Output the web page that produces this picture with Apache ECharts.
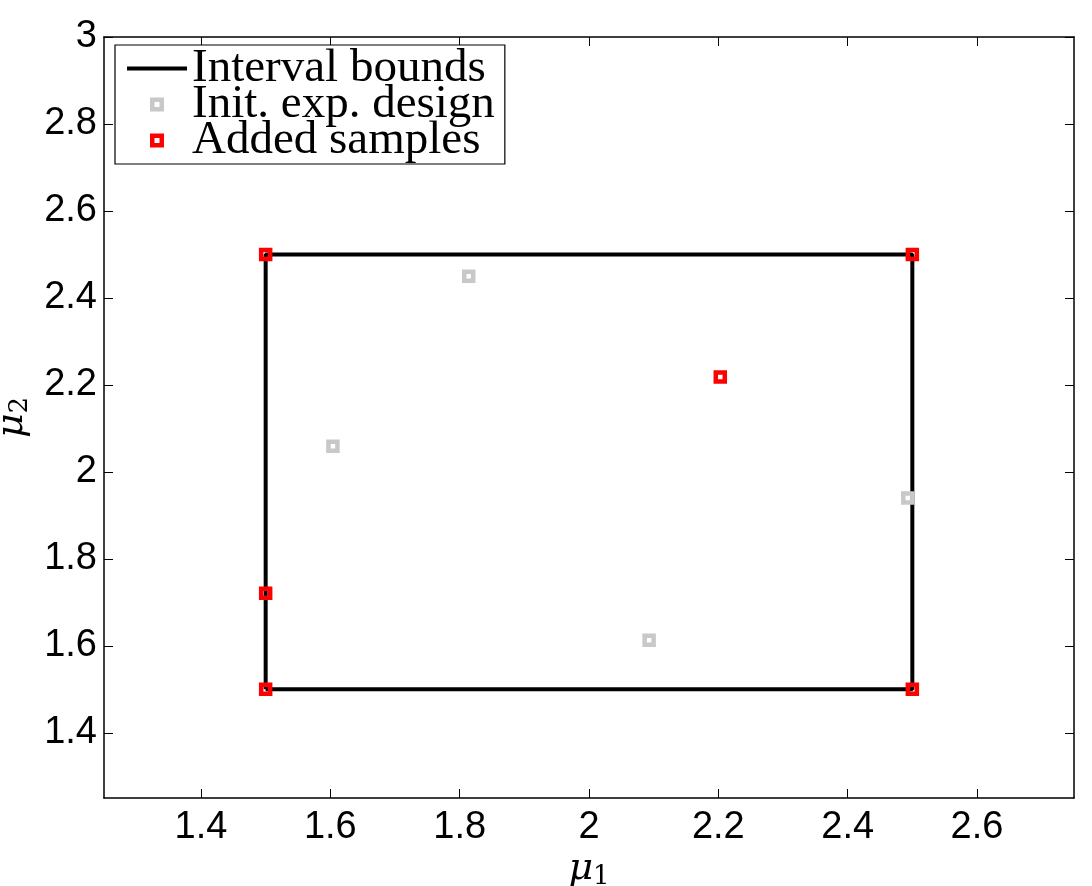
<!DOCTYPE html>
<html>
<head>
<meta charset="utf-8">
<script src="https://cdn.jsdelivr.net/npm/echarts@6/dist/echarts.min.js"></script>
<style>
  html, body { margin: 0; padding: 0; background: #fff; }
  #chart { width: 1092px; height: 886px; }
</style>
</head>
<body>
<div id="chart"></div>
<script>
// interval bounds rectangle (mu1, mu2) corners, closed
const boundsX = [1.5, 1.5, 2.5, 2.5, 1.5];
const boundsY = [1.5, 2.5, 2.5, 1.5, 1.5];
// initial experimental design
const initX = [1.814, 1.604, 2.093, 2.493];
const initY = [2.45, 2.059, 1.613, 1.94];
// added samples
const addedX = [1.5, 2.5, 1.5, 2.5, 1.5, 2.203];
const addedY = [2.5, 2.5, 1.5, 1.5, 1.721, 2.218];
// tick labels
const xTicks = [1.4, 1.6, 1.8, 2, 2.2, 2.4, 2.6];
const yTicks = [1.4, 1.6, 1.8, 2, 2.2, 2.4, 2.6, 2.8, 3];

const zip = (a, b) => a.map((v, i) => [v, b[i]]);

const tickFont = { fontFamily: 'Liberation Sans', fontSize: 38, color: '#000' };
const serif = 'DejaVu Serif';
const hollowSquare = 'path://M0,0H14V14H0ZM4.5,4.5V9.5H9.5V4.5Z';
const lineIcon = 'path://M0,0H60V4H0Z';

const frameAxis = {
  type: 'value',
  axisLine: { show: true, onZero: false, lineStyle: { color: '#000', width: 1.5 } },
  axisTick: { show: true, inside: true, length: 9, lineStyle: { color: '#000', width: 1 } },
  splitLine: { show: false }
};

const nameRich = {
  m: { fontFamily: serif, fontStyle: 'italic', fontSize: 38, color: '#000' },
  s: { fontFamily: serif, fontSize: 26, color: '#000', verticalAlign: 'bottom', padding: [16, 0, 0, 0] }
};

const option = {
  animation: false,
  backgroundColor: '#fff',
  grid: { left: 104, right: 18, top: 37, bottom: 88, containLabel: false, outerBoundsMode: 'none' },
  xAxis: [
    Object.assign({}, frameAxis, {
      min: 1.25, max: 2.75, position: 'bottom',
      axisTick: Object.assign({}, frameAxis.axisTick, { customValues: xTicks }),
      axisLabel: Object.assign({}, tickFont, { customValues: xTicks, margin: 11 }),
      name: '{m|μ}{s|1}',
      nameLocation: 'middle',
      nameGap: 50,
      nameMoveOverlap: false,
      nameTextStyle: { rich: nameRich }
    }),
    Object.assign({}, frameAxis, {
      min: 1.25, max: 2.75, position: 'top',
      axisTick: Object.assign({}, frameAxis.axisTick, { customValues: xTicks }),
      axisLabel: { show: false }
    })
  ],
  yAxis: [
    Object.assign({}, frameAxis, {
      min: 1.25, max: 3, position: 'left',
      axisTick: Object.assign({}, frameAxis.axisTick, { customValues: yTicks }),
      axisLabel: Object.assign({}, tickFont, { customValues: yTicks, margin: 7 }),
      name: '{m|μ}{s|2}',
      nameLocation: 'middle',
      nameGap: 66,
      nameRotate: 90,
      nameTextStyle: { rich: nameRich }
    }),
    Object.assign({}, frameAxis, {
      min: 1.25, max: 3, position: 'right',
      axisTick: Object.assign({}, frameAxis.axisTick, { customValues: yTicks }),
      axisLabel: { show: false }
    })
  ],
  legend: {
    orient: 'vertical',
    left: 115,
    top: 45,
    padding: [0, 10, 0, 12],
    itemWidth: 60,
    itemHeight: 14,
    itemGap: -11,
    backgroundColor: '#fff',
    borderColor: '#000',
    borderWidth: 1.2,
    borderRadius: 0,
    textStyle: { fontFamily: 'Liberation Serif', fontSize: 47, color: '#000' },
    data: [
      { name: 'Interval bounds', icon: lineIcon, itemStyle: { color: '#000', borderWidth: 0 } },
      { name: 'Init. exp. design', icon: hollowSquare, itemStyle: { color: '#c8c8c8', borderWidth: 0 } },
      { name: 'Added samples', icon: hollowSquare, itemStyle: { color: '#ff0000', borderWidth: 0 } }
    ]
  },
  series: [
    {
      name: 'Interval bounds',
      type: 'line',
      data: zip(boundsX, boundsY),
      symbol: 'none',
      lineStyle: { color: '#000', width: 4 },
      itemStyle: { color: '#000' },
      z: 2
    },
    {
      name: 'Init. exp. design',
      type: 'scatter',
      data: zip(initX, initY),
      symbol: 'rect',
      symbolSize: 9,
      itemStyle: { color: 'rgba(0,0,0,0)', borderColor: '#c8c8c8', borderWidth: 4.5, opacity: 1 },
      z: 3
    },
    {
      name: 'Added samples',
      type: 'scatter',
      data: zip(addedX, addedY),
      symbol: 'rect',
      symbolSize: 9,
      itemStyle: { color: 'rgba(0,0,0,0)', borderColor: '#ff0000', borderWidth: 4.5, opacity: 1 },
      z: 4
    }
  ]
};

echarts.init(document.getElementById('chart'), null, { renderer: 'canvas' }).setOption(option);
</script>
</body>
</html>
